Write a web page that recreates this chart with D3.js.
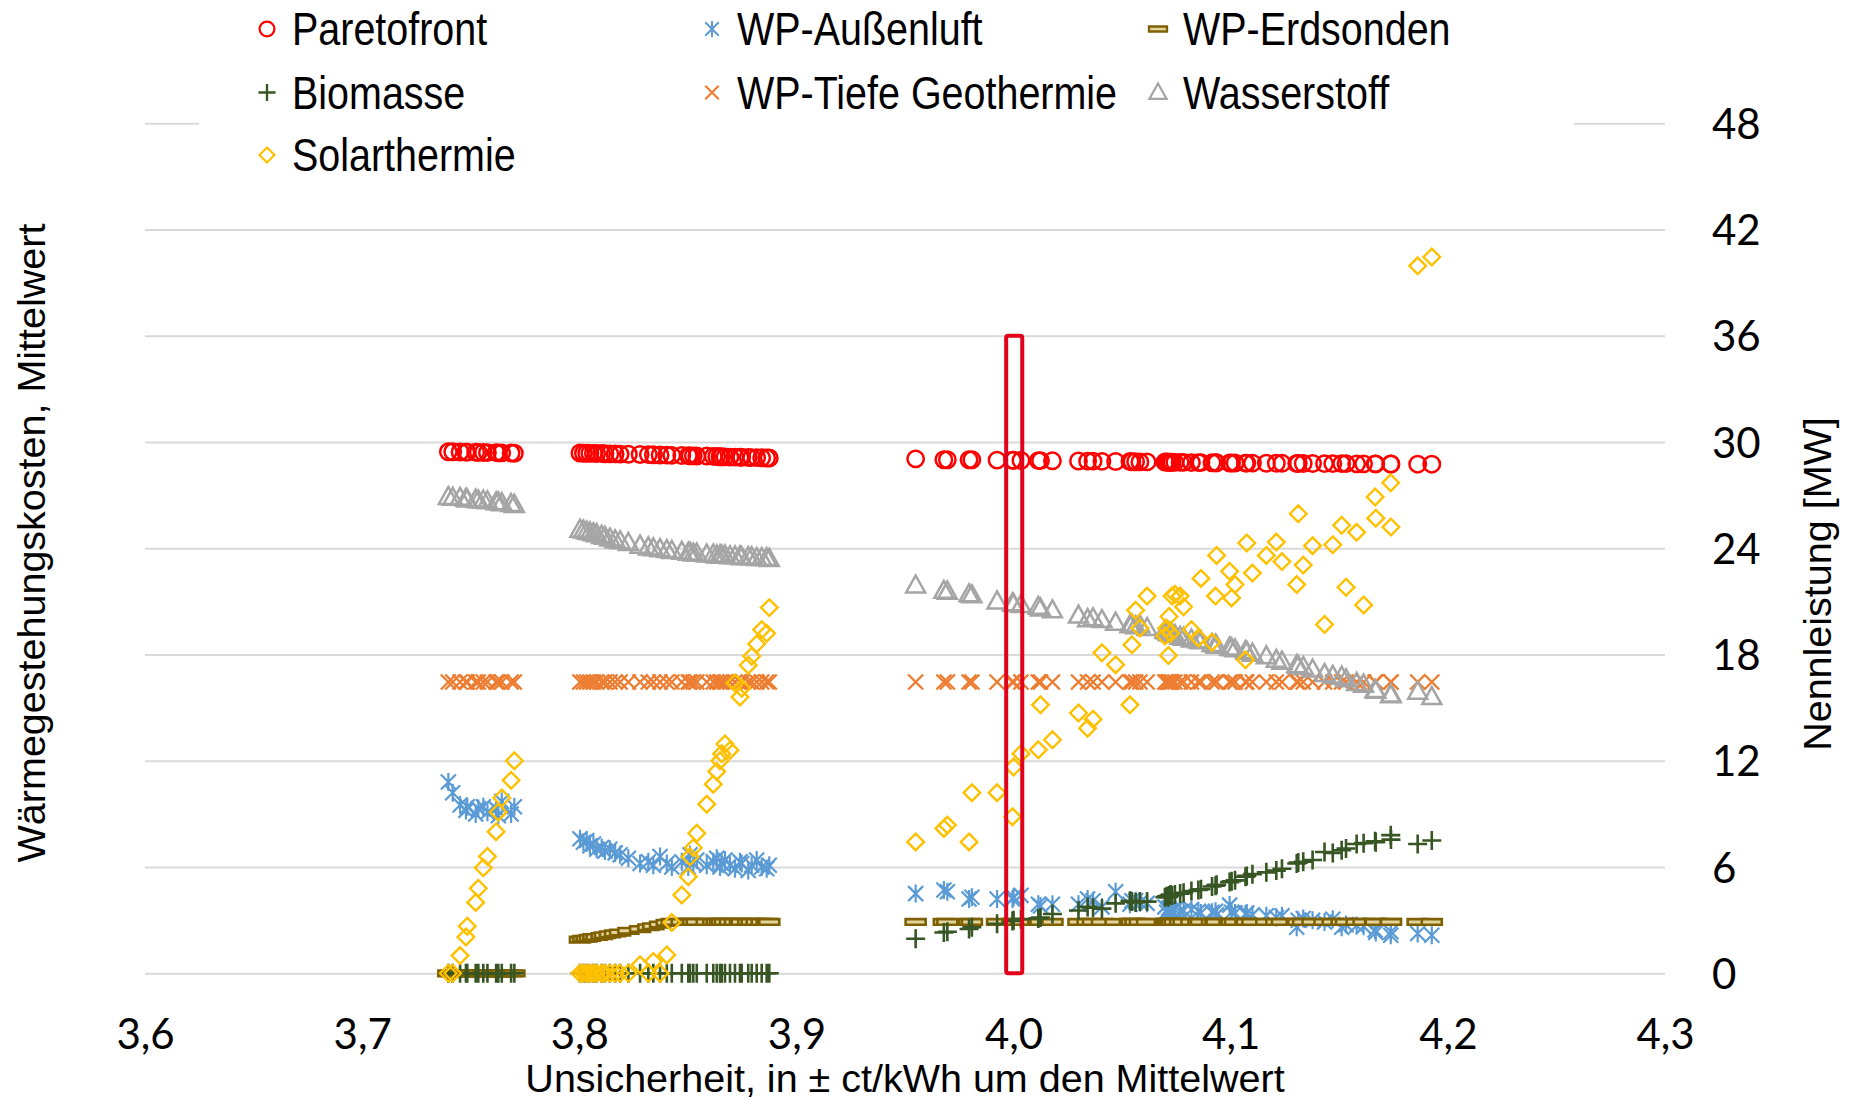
<!DOCTYPE html>
<html>
<head>
<meta charset="utf-8">
<script src="https://cdn.jsdelivr.net/npm/d3@7"></script>
<style>
  body { margin: 0; background: #fff; }
</style>
</head>
<body>
<svg id="chart"></svg>
<script>
// Unsicherheit (x), one entry per computed design point
const uncertainty = [
  3.7397, 3.7417, 3.7451, 3.7478, 3.7484, 3.7523, 3.7535, 3.7558, 3.7577, 3.7617, 3.7627, 3.7643, 3.7686, 3.7701,
  3.8003, 3.8019, 3.8034, 3.8049, 3.8065, 3.8080, 3.8103, 3.8118, 3.8141, 3.8165,
  3.8188, 3.8226, 3.8280, 3.8318, 3.8341, 3.8372, 3.8403, 3.8426, 3.8472, 3.8502,
  3.8510, 3.8525, 3.8541, 3.8587, 3.8617, 3.8633, 3.8648, 3.8656, 3.8671, 3.8694,
  3.8717, 3.8740, 3.8748, 3.8778, 3.8794, 3.8817, 3.8840, 3.8863, 3.8875,
  3.9549, 3.9679, 3.9695, 3.9795, 3.9808, 3.9924, 3.9995, 4.0000, 4.0034, 4.0114,
  4.0124, 4.0179, 4.0299, 4.0341, 4.0366, 4.0407, 4.0470, 4.0536, 4.0545, 4.0562,
  4.0582, 4.0615, 4.0697, 4.0705, 4.0713, 4.0716, 4.0723, 4.0730, 4.0743, 4.0767,
  4.0783, 4.0819, 4.0851, 4.0863, 4.0914, 4.0930, 4.0935, 4.0995, 4.1004, 4.1020,
  4.1068, 4.1074, 4.1100, 4.1164, 4.1210, 4.1236, 4.1304, 4.1311, 4.1334, 4.1377,
  4.1432, 4.1470, 4.1511, 4.1531, 4.1580, 4.1612, 4.1665, 4.1668, 4.1737, 4.1738,
  4.1861, 4.1926
];

const paretofront = [
  29.45, 29.45, 29.44, 29.43, 29.43, 29.42, 29.41, 29.41, 29.40, 29.40, 29.39, 29.39, 29.38, 29.37,
  29.38, 29.37, 29.37, 29.36, 29.36, 29.35, 29.35, 29.34, 29.33, 29.33,
  29.32, 29.31, 29.30, 29.29, 29.28, 29.27, 29.26, 29.25, 29.24, 29.23,
  29.22, 29.22, 29.21, 29.21, 29.19, 29.18, 29.17, 29.17, 29.16, 29.15,
  29.15, 29.14, 29.14, 29.13, 29.12, 29.12, 29.11, 29.10, 29.10,
  29.05, 29.00, 29.00, 29.00, 29.00, 28.98, 28.97, 28.97, 28.96, 28.95,
  28.95, 28.94, 28.93, 28.92, 28.92, 28.91, 28.90, 28.90, 28.89, 28.89,
  28.88, 28.88, 28.87, 28.87, 28.86, 28.86, 28.86, 28.86, 28.85, 28.85,
  28.85, 28.84, 28.84, 28.84, 28.83, 28.83, 28.83, 28.82, 28.82, 28.82,
  28.81, 28.81, 28.81, 28.80, 28.80, 28.80, 28.79, 28.79, 28.79, 28.79,
  28.78, 28.78, 28.78, 28.78, 28.77, 28.77, 28.77, 28.77, 28.76, 28.76,
  28.75, 28.75
];

const wpAussenluft = [
  10.8, 10.2, 9.5, 9.2, 9.4, 9.0, 9.3, 9.4, 9.1, 9.3, 8.9, 9.7, 9.0, 9.4,
  7.6, 7.4, 7.5, 7.2, 7.3, 7.0, 7.1, 6.9, 7.0, 6.8,
  6.7, 6.5, 6.2, 6.3, 6.1, 6.6, 6.2, 6.0, 6.3, 6.0,
  6.7, 6.2, 6.4, 6.1, 6.3, 6.5, 6.0, 6.2, 6.4, 6.1,
  5.9, 6.3, 6.2, 5.8, 6.1, 6.4, 6.0, 5.9, 6.1,
  4.5, 4.7, 4.6, 4.2, 4.3, 4.2, 4.2, 4.3, 4.4, 3.9,
  3.8, 3.9, 3.9, 4.2, 4.1, 3.75, 4.6, 3.9, 4.1, 4.1,
  4.0, 3.95, 3.75, 3.45, 3.6, 3.7, 3.55, 3.5, 3.6, 3.5,
  3.55, 3.6, 3.5, 3.4, 3.45, 3.5, 3.3, 3.85, 3.45, 3.4,
  3.35, 3.4, 3.3, 3.25, 3.15, 3.25, 2.6, 3.0, 3.1, 3.0,
  2.9, 3.05, 2.6, 2.75, 2.7, 2.65, 2.45, 2.3, 2.15, 2.35,
  2.25, 2.15
];

const wpErdsonden = [
  0, 0, 0, 0, 0, 0, 0, 0, 0, 0, 0, 0, 0, 0,
  1.90, 1.95, 1.95, 2.00, 2.05, 2.05, 2.10, 2.15, 2.20, 2.25,
  2.30, 2.40, 2.50, 2.60, 2.65, 2.75, 2.85, 2.90, 2.90, 2.90,
  2.9, 2.9, 2.9, 2.9, 2.9, 2.9, 2.9, 2.9, 2.9, 2.9,
  2.9, 2.9, 2.9, 2.9, 2.9, 2.9, 2.9, 2.9, 2.9,
  2.9, 2.9, 2.9, 2.9, 2.9, 2.9, 2.9, 2.9, 2.9, 2.9,
  2.9, 2.9, 2.9, 2.9, 2.9, 2.9, 2.9, 2.9, 2.9, 2.9,
  2.9, 2.9, 2.9, 2.9, 2.9, 2.9, 2.9, 2.9, 2.9, 2.9,
  2.9, 2.9, 2.9, 2.9, 2.9, 2.9, 2.9, 2.9, 2.9, 2.9,
  2.9, 2.9, 2.9, 2.9, 2.9, 2.9, 2.9, 2.9, 2.9, 2.9,
  2.9, 2.9, 2.9, 2.9, 2.9, 2.9, 2.9, 2.9, 2.9, 2.9,
  2.9, 2.9
];

const biomasse = [
  0, 0, 0, 0, 0, 0, 0, 0, 0, 0, 0, 0, 0, 0,
  0, 0, 0, 0, 0, 0, 0, 0, 0, 0,
  0, 0, 0, 0, 0, 0, 0, 0, 0, 0,
  0, 0, 0, 0, 0, 0, 0, 0, 0, 0,
  0, 0, 0, 0, 0, 0, 0, 0, 0,
  1.95, 2.3, 2.35, 2.5, 2.6, 2.8, 2.95, 3.0, 3.05, 3.1,
  3.15, 3.35, 3.55, 3.75, 3.7, 3.65, 3.95, 4.1, 4.05, 4.0,
  4.05, 4.05, 4.3, 4.35, 4.3, 4.4, 4.45, 4.4, 4.45, 4.5,
  4.55, 4.65, 4.7, 4.75, 4.9, 4.95, 5.0, 5.15, 5.2, 5.25,
  5.45, 5.5, 5.6, 5.7, 5.8, 5.9, 6.2, 6.25, 6.3, 6.4,
  6.85, 6.8, 6.95, 7.05, 7.3, 7.35, 7.45, 7.4, 7.8, 7.55,
  7.3, 7.5
];

const wpTiefeGeothermie = [
  16.45, 16.45, 16.45, 16.45, 16.45, 16.45, 16.45, 16.45, 16.45, 16.45, 16.45, 16.45, 16.45, 16.45,
  16.45, 16.45, 16.45, 16.45, 16.45, 16.45, 16.45, 16.45, 16.45, 16.45,
  16.45, 16.45, 16.45, 16.45, 16.45, 16.45, 16.45, 16.45, 16.45, 16.45,
  16.45, 16.45, 16.45, 16.45, 16.45, 16.45, 16.45, 16.45, 16.45, 16.45,
  16.45, 16.45, 16.45, 16.45, 16.45, 16.45, 16.45, 16.45, 16.45,
  16.45, 16.45, 16.45, 16.45, 16.45, 16.45, 16.45, 16.45, 16.45, 16.45,
  16.45, 16.45, 16.45, 16.45, 16.45, 16.45, 16.45, 16.45, 16.45, 16.45,
  16.45, 16.45, 16.45, 16.45, 16.45, 16.45, 16.45, 16.45, 16.45, 16.45,
  16.45, 16.45, 16.45, 16.45, 16.45, 16.45, 16.45, 16.45, 16.45, 16.45,
  16.45, 16.45, 16.45, 16.45, 16.45, 16.45, 16.45, 16.45, 16.45, 16.45,
  16.45, 16.45, 16.45, 16.45, 16.45, 16.45, 16.45, 16.45, 16.45, 16.45,
  16.45, 16.45
];

const wasserstoff = [
  26.9, 26.85, 26.85, 26.8, 26.75, 26.75, 26.7, 26.7, 26.65, 26.6, 26.6, 26.55, 26.5, 26.45,
  25.05, 25.0, 24.95, 24.9, 24.85, 24.8, 24.7, 24.65, 24.55, 24.45,
  24.4, 24.3, 24.15, 24.05, 24.0, 23.95, 23.9, 23.85, 23.8, 23.75,
  23.75, 23.7, 23.7, 23.65, 23.65, 23.6, 23.6, 23.6, 23.6, 23.55,
  23.55, 23.55, 23.5, 23.5, 23.5, 23.45, 23.45, 23.45, 23.4,
  21.9, 21.6, 21.55, 21.4, 21.35, 21.0, 20.9, 20.85, 20.8, 20.7,
  20.6, 20.5, 20.2, 20.0, 20.05, 19.95, 19.8, 19.65, 19.7, 19.6,
  19.65, 19.5, 19.35, 19.3, 19.25, 19.2, 19.2, 19.15, 19.1, 19.0,
  18.95, 18.85, 18.8, 18.75, 18.6, 18.55, 18.5, 18.4, 18.35, 18.3,
  18.2, 18.15, 18.05, 17.9, 17.7, 17.6, 17.4, 17.35, 17.3, 17.15,
  16.9, 16.8, 16.75, 16.6, 16.4, 16.3, 16.0, 15.95, 15.7, 15.75,
  15.9, 15.6
];

const solarthermie = [
  0, 0, 1.0, 2.05, 2.66, 4.0, 4.8, 5.96, 6.6, 8.0, 9.1, 9.9, 10.9, 12.0,
  0, 0, 0, 0, 0, 0, 0, 0, 0, 0,
  0, 0, 0.48, 0, 0.67, 0, 1.04, 2.87, 4.42, 5.45,
  6.58, 7.09, 7.91, 9.55, 10.68, 11.4, 12.0, 12.4, 12.95, 12.6,
  16.4, 15.6, 16.1, 17.4, 17.9, 18.6, 19.4, 19.2, 20.65,
  7.42, 8.18, 8.37, 7.42, 10.2, 10.2, 8.84, 11.65, 12.4, 12.62,
  15.16, 13.19, 14.7, 13.84, 14.35, 18.1, 17.43, 15.16, 18.55, 20.5,
  19.5, 21.3, 19.05, 19.48, 17.95, 20.15, 19.2, 21.3, 21.4, 21.3,
  20.7, 19.4, 18.94, 22.3, 18.7, 21.3, 23.6, 22.7, 21.2, 21.95,
  17.7, 24.3, 22.6, 23.6, 24.35, 23.25, 21.95, 25.95, 23.05, 24.15,
  19.7, 24.2, 25.3, 21.8, 24.9, 20.8, 26.9, 25.7, 27.7, 25.2,
  39.95, 40.45
];

const xTicks = [3.6, 3.7, 3.8, 3.9, 4.0, 4.1, 4.2, 4.3];
const yTicks = [0, 6, 12, 18, 24, 30, 36, 42, 48];
// marked design point (red frame): x from / to, height
const highlight = { x0: 3.9966, x1: 4.0040, top: 36 };

const W = 1850, H = 1106;
const titleFont = "'Liberation Sans', Arial, sans-serif";
const tickFont = "Lato, 'Open Sans', sans-serif";

const svg = d3.select('#chart').attr('width', W).attr('height', H);

const x = d3.scaleLinear().domain([3.6, 4.3]).range([145, 1665]);
const y = d3.scaleLinear().domain([0, 48]).range([973.3, 123.3]);

const de = d3.formatLocale({ decimal: ',', thousands: '.', grouping: [3], currency: ['', ' €'] });

// right axis with horizontal gridlines
const yAxis = svg.append('g')
    .attr('transform', `translate(${x.range()[1]},0)`)
    .call(d3.axisRight(y)
        .tickValues(yTicks)
        .tickSize(-(x.range()[1] - x.range()[0]))
        .tickPadding(47)
        .tickFormat(d3.format('d')));
yAxis.select('.domain').remove();
yAxis.selectAll('line').attr('stroke', '#d9d9d9').attr('stroke-width', 2);
yAxis.selectAll('text')
    .attr('font-family', tickFont)
    .attr('font-size', 42)
    .attr('fill', '#000')
    .attr('dy', '0.36em');

// bottom axis, labels only
const xAxis = svg.append('g')
    .attr('transform', `translate(0,${y(0)})`)
    .call(d3.axisBottom(x)
        .tickValues(xTicks)
        .tickSize(0)
        .tickPadding(46)
        .tickFormat(de.format('.1f')));
xAxis.select('.domain').remove();
xAxis.selectAll('text')
    .attr('font-family', tickFont)
    .attr('font-size', 42)
    .attr('fill', '#000');

// marker shapes
const shapes = {
    circle: 'M8.2,0A8.2,8.2 0 1 1 -8.2,0A8.2,8.2 0 1 1 8.2,0Z',
    plus: 'M-9.5,0H9.5M0,-9.5V9.5',
    star: 'M-7.5,-7.5L7.5,7.5M-7.5,7.5L7.5,-7.5M0,-9V9',
    cross: 'M-7.5,-7.5L7.5,7.5M-7.5,7.5L7.5,-7.5',
    dash: 'M-10,-2.8H10V2.8H-10Z',
    triangle: 'M0,-10L9.5,7H-9.5Z',
    diamond: 'M0,-8.3L8.3,0L0,8.3L-8.3,0Z'
};

// drawing order = series order (last on top)
const series = [
    { name: 'Paretofront', values: paretofront, shape: 'circle', stroke: '#ff0000', fill: 'none', sw: 2.5 },
    { name: 'WP-Außenluft', values: wpAussenluft, shape: 'star', stroke: '#5b9bd5', fill: 'none', sw: 2.2 },
    { name: 'WP-Erdsonden', values: wpErdsonden, shape: 'dash', stroke: '#7f6000', fill: '#e2d49c', sw: 2.6 },
    { name: 'Biomasse', values: biomasse, shape: 'plus', stroke: '#375623', fill: 'none', sw: 2.6 },
    { name: 'WP-Tiefe Geothermie', values: wpTiefeGeothermie, shape: 'cross', stroke: '#ed7d31', fill: 'none', sw: 2.4 },
    { name: 'Wasserstoff', values: wasserstoff, shape: 'triangle', stroke: '#a5a5a5', fill: 'none', sw: 2.5 },
    { name: 'Solarthermie', values: solarthermie, shape: 'diamond', stroke: '#ffc000', fill: 'none', sw: 2.4 }
];

const plot = svg.append('g');
series.forEach(s => {
    plot.append('g')
        .selectAll('path')
        .data(uncertainty.map((u, i) => [u, s.values[i]]).filter(d => d[1] != null))
        .join('path')
        .attr('d', shapes[s.shape])
        .attr('transform', d => `translate(${x(d[0])},${y(d[1])})`)
        .attr('fill', s.fill)
        .attr('stroke', s.stroke)
        .attr('stroke-width', s.sw);
});

// red frame around the chosen point
svg.append('rect')
    .attr('x', x(highlight.x0))
    .attr('y', y(highlight.top))
    .attr('width', x(highlight.x1) - x(highlight.x0))
    .attr('height', y(0) - y(highlight.top))
    .attr('rx', 2)
    .attr('fill', 'none')
    .attr('stroke', '#e2001a')
    .attr('stroke-width', 4);

// legend (white box covers the top gridline)
const legend = svg.append('g');
legend.append('rect')
    .attr('x', 199).attr('y', 0)
    .attr('width', 1375).attr('height', 188)
    .attr('fill', '#fff');

const legendOrder = ['Paretofront', 'WP-Außenluft', 'WP-Erdsonden', 'Biomasse', 'WP-Tiefe Geothermie', 'Wasserstoff', 'Solarthermie'];
const colX = [267, 712, 1158];
const rowY = [29, 92.5, 155];
legendOrder.forEach((name, i) => {
    const s = series.find(d => d.name === name);
    const cx = colX[i % 3], cy = rowY[Math.floor(i / 3)];
    legend.append('path')
        .attr('d', shapes[s.shape])
        .attr('transform', `translate(${cx},${cy}) scale(0.9)`)
        .attr('fill', s.fill)
        .attr('stroke', s.stroke)
        .attr('stroke-width', s.sw);
    // narrow legend lettering (Arial Narrow look)
    legend.append('text')
        .attr('transform', `translate(${cx + 25},${cy}) scale(0.858,1)`)
        .attr('dy', '0.35em')
        .attr('font-family', titleFont)
        .attr('font-size', 46)
        .text(name);
});

// axis titles
svg.append('text')
    .attr('x', 905).attr('y', 1092)
    .attr('text-anchor', 'middle')
    .attr('font-family', titleFont)
    .attr('font-size', 39.5)
    .text('Unsicherheit, in ± ct/kWh um den Mittelwert');

svg.append('text')
    .attr('transform', 'translate(45,543) rotate(-90)')
    .attr('text-anchor', 'middle')
    .attr('font-family', titleFont)
    .attr('font-size', 39.5)
    .text('Wärmegestehungskosten, Mittelwert');

svg.append('text')
    .attr('transform', 'translate(1831,584) rotate(-90)')
    .attr('text-anchor', 'middle')
    .attr('font-family', titleFont)
    .attr('font-size', 39.5)
    .text('Nennleistung [MW]');
</script>
</body>
</html>
